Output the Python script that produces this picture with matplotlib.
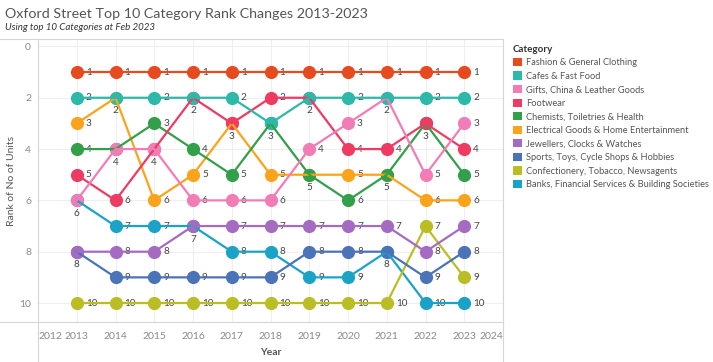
import matplotlib
matplotlib.use("Agg")
import matplotlib.pyplot as plt
from matplotlib.patches import Patch
from matplotlib.lines import Line2D

# data
years = [2013, 2014, 2015, 2016, 2017, 2018, 2019, 2020, 2021, 2022, 2023]
categories = [
    "Fashion & General Clothing",
    "Cafes & Fast Food",
    "Gifts, China & Leather Goods",
    "Footwear",
    "Chemists, Toiletries & Health",
    "Electrical Goods & Home Entertainment",
    "Jewellers, Clocks & Watches",
    "Sports, Toys, Cycle Shops & Hobbies",
    "Confectionery, Tobacco, Newsagents",
    "Banks, Financial Services & Building Societies",
]
fashion = [1, 1, 1, 1, 1, 1, 1, 1, 1, 1, 1]
cafes = [2, 2, 2, 2, 2, 3, 2, 2, 2, 2, 2]
gifts = [6, 4, 4, 6, 6, 6, 4, 3, 2, 5, 3]
footwear = [5, 6, 4, 2, 3, 2, 2, 4, 4, 3, 4]
chemists = [4, 4, 3, 4, 5, 3, 5, 6, 5, 3, 5]
electrical = [3, 2, 6, 5, 3, 5, 5, 5, 5, 6, 6]
jewellers = [8, 8, 8, 7, 7, 7, 7, 7, 7, 8, 7]
sports = [8, 9, 9, 9, 9, 9, 8, 8, 8, 9, 8]
confectionery = [10, 10, 10, 10, 10, 10, 10, 10, 10, 7, 9]
banks = [6, 7, 7, 7, 8, 8, 9, 9, 8, 10, 10]
ranks = [fashion, cafes, gifts, footwear, chemists, electrical,
         jewellers, sports, confectionery, banks]
colors = ["#E64A1E", "#2CB9A9", "#F27CB6", "#EF3B62", "#32A04B",
          "#FBA41B", "#A56BC0", "#4B73B7", "#BBBD24", "#1BA3C7"]
y_ticks = [0, 2, 4, 6, 8, 10]
x_ticks = list(range(2012, 2025))

plt.rcParams["font.family"] = ["Lato", "DejaVu Sans"]

W, H = 713, 362
fig = plt.figure(figsize=(W / 100, H / 100), dpi=100)
ax = fig.add_axes([38 / W, 1 - 322 / H, 465 / W, 283 / H])

n = len(categories)
# markers underneath, lines on top (like the Tableau dual layer)
for i in reversed(range(n)):
    ax.plot(years, ranks[i], "o", color=colors[i], markersize=9.5,
            markeredgewidth=0, zorder=2 + (n - i) * 0.01)
for i in reversed(range(n)):
    ax.plot(years, ranks[i], "-", color=colors[i], linewidth=1.6,
            zorder=4 + (n - i) * 0.01)

# value labels: right of the mark, or one shared label below when marks coincide
done = set()
for i in range(n):
    for x, r in zip(years, ranks[i]):
        if (x, r) in done:
            continue
        done.add((x, r))
        shared = sum(1 for s in ranks if s[years.index(x)] == r) > 1
        if shared:
            ax.annotate(str(r), (x, r), xytext=(0, -13), textcoords="offset pixels",
                        ha="center", va="center", fontsize=7.2, color="#444444", zorder=3)
        else:
            ax.annotate(str(r), (x, r), xytext=(9, 0), textcoords="offset pixels",
                        ha="left", va="center", fontsize=7.2, color="#444444", zorder=3)

ax.set_xlim(2012, 2024)
ax.set_ylim(10.74, -0.29)
ax.set_xticks(x_ticks)
ax.set_xticklabels([str(t) for t in x_ticks])
ax.set_yticks(y_ticks)
ax.tick_params(length=0, labelsize=7.5, labelcolor="#8a8a8a")
ax.tick_params(axis="x", pad=7)
ax.tick_params(axis="y", pad=5)
xl = ax.get_xticklabels()
xl[0].set_ha("left")
xl[-1].set_ha("right")
ax.grid(True, color="#efefef", linewidth=0.8)
ax.set_axisbelow(True)
for s in ax.spines.values():
    s.set_visible(False)

ax.set_xlabel("Year", fontsize=7.5, fontweight="bold", color="#555555", labelpad=5)
ax.set_ylabel("Rank of No of Units", fontsize=7.5, color="#555555", labelpad=2)

# pane divider lines
lc = "#d6d6d6"
fig.add_artist(Line2D([0, 503 / W], [1 - 39 / H] * 2, color=lc, lw=0.8))
fig.add_artist(Line2D([0, 503 / W], [1 - 322 / H] * 2, color=lc, lw=0.8))
fig.add_artist(Line2D([38 / W] * 2, [0, 1 - 39 / H], color=lc, lw=0.8))
fig.add_artist(Line2D([503 / W] * 2, [0, 1 - 39 / H], color=lc, lw=0.8))

fig.text(5 / W, 1 - 14 / H, "Oxford Street Top 10 Category Rank Changes 2013-2023",
         fontsize=10.3, color="#555555", ha="left", va="center")
fig.text(5 / W, 1 - 27 / H, "Using top 10 Categories at Feb 2023",
         fontsize=7, style="italic", color="#333333", ha="left", va="center")

handles = [Patch(facecolor=c, edgecolor="none") for c in colors]
leg = fig.legend(handles, categories, loc="upper left", bbox_to_anchor=(509 / W, 1 - 41 / H),
                 frameon=False, fontsize=6.7, title="Category", alignment="left",
                 handlelength=1.0, handleheight=1.0, handletextpad=0.45,
                 labelspacing=0.45, borderaxespad=0)
leg.get_title().set_fontsize(7)
leg.get_title().set_fontweight("bold")
leg.get_title().set_color("#333333")
for t in leg.get_texts():
    t.set_color("#555555")

fig.savefig("out.png", dpi=100)
